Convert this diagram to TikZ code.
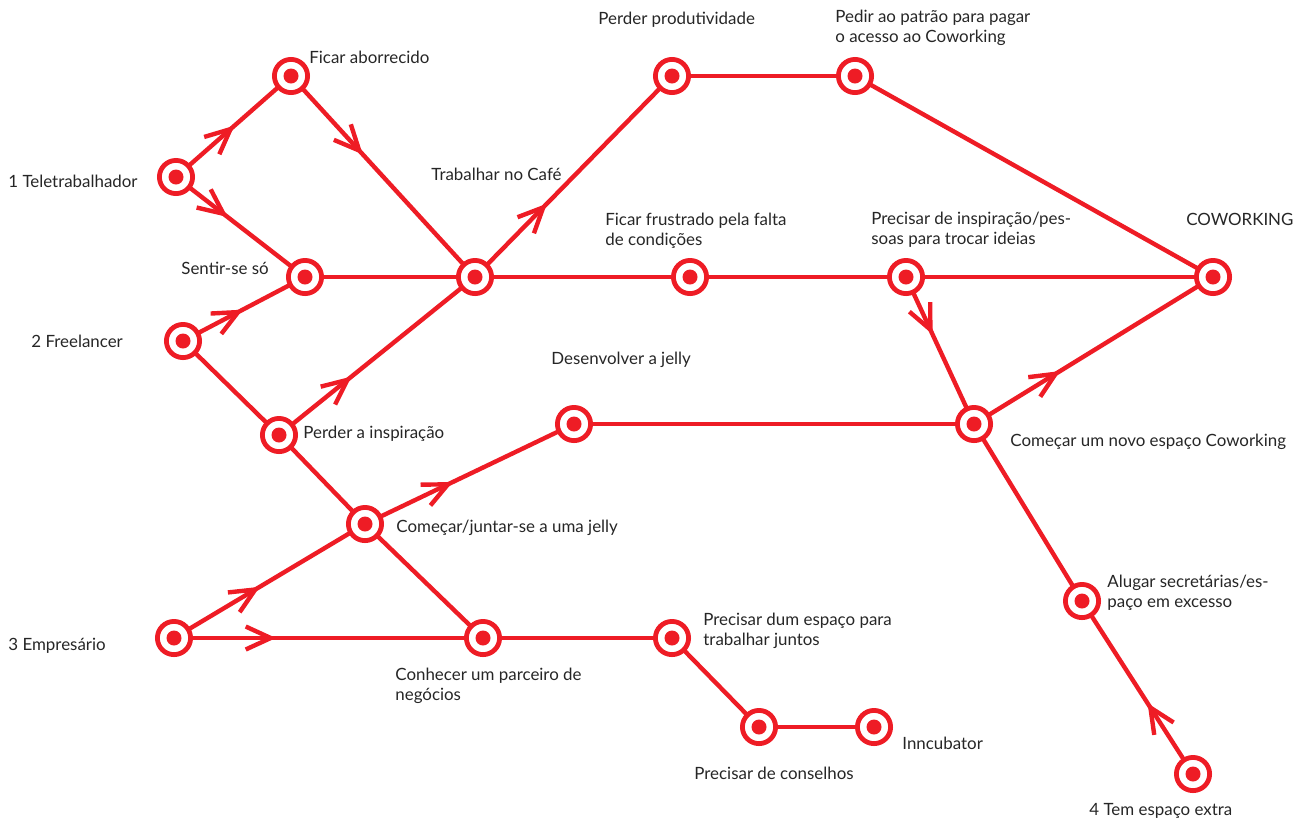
\documentclass[tikz,border=0pt]{standalone}
\usepackage{fontspec}
\setmainfont{Lato}
\usetikzlibrary{arrows.meta,decorations.markings}
\definecolor{jred}{HTML}{EE1C25}
\definecolor{jtext}{HTML}{262626}
\pgfdeclarelayer{bg}
\pgfsetlayers{bg,main}
\tikzset{
  stn/.style={circle, draw=jred, line width=2.4pt, fill=white, minimum size=16.6pt, inner sep=0pt,
    path picture={\fill[jred] (path picture bounding box.center) circle (3.75pt);}},
  lbl/.style={anchor=west, inner sep=0pt, text=jtext, align=left, font=\fontsize{8.45}{9.8}\selectfont},
  ln/.style={draw=jred, line width=2.2pt},
  arr/.style={ln, postaction={decorate}, decoration={markings,
    mark=at position #1 with {\arrow{Straight Barb[length=12.5pt,width=11.5pt,line width=2.2pt]}}}}
}
\begin{document}
\begin{tikzpicture}[x=0.5pt,y=-0.5pt]
\useasboundingbox (0,0) rectangle (1305,821);
% stations
\node[stn] (t1) at (176,177) {};
\node[stn] (fa) at (291,76) {};
\node[stn] (ss) at (305,277) {};
\node[stn] (tc) at (475,277) {};
\node[stn] (fl) at (183,341) {};
\node[stn] (pi) at (279,435) {};
\node[stn] (cj) at (365,524) {};
\node[stn] (em) at (174,638) {};
\node[stn] (cp) at (483,638) {};
\node[stn] (pe) at (672,638) {};
\node[stn] (pc) at (759,727) {};
\node[stn] (in) at (874,727) {};
\node[stn] (dj) at (574,424) {};
\node[stn] (pp) at (672,76) {};
\node[stn] (pa) at (855,76) {};
\node[stn] (ff) at (690,277) {};
\node[stn] (pn) at (906,277) {};
\node[stn] (cw) at (1213,277) {};
\node[stn] (ne) at (974,424) {};
\node[stn] (as) at (1082,601) {};
\node[stn] (te) at (1193,774) {};
% connectors
\begin{pgfonlayer}{bg}
\draw[arr=0.51] (t1.center) -- (fa.center);
\draw[arr=0.39] (fa.center) -- (tc.center);
\draw[arr=0.40] (t1.center) -- (ss.center);
\draw[ln] (ss.center) -- (tc.center);
\draw[arr=0.49] (fl.center) -- (ss.center);
\draw[ln] (fl.center) -- (pi.center);
\draw[arr=0.37] (pi.center) -- (tc.center);
\draw[ln] (pi.center) -- (cj.center);
\draw[arr=0.365] (tc.center) -- (pp.center);
\draw[ln] (pp.center) -- (pa.center);
\draw[ln] (pa.center) -- (cw.center);
\draw[ln] (tc.center) -- (ff.center);
\draw[ln] (ff.center) -- (pn.center);
\draw[ln] (pn.center) -- (cw.center);
\draw[arr=0.39] (pn.center) -- (ne.center);
\draw[arr=0.36] (ne.center) -- (cw.center);
\draw[ln] (dj.center) -- (ne.center);
\draw[arr=0.42] (cj.center) -- (dj.center);
\draw[arr=0.45] (em.center) -- (cj.center);
\draw[arr=0.33] (em.center) -- (cp.center);
\draw[ln] (cj.center) -- (cp.center);
\draw[ln] (cp.center) -- (pe.center);
\draw[ln] (pe.center) -- (pc.center);
\draw[ln] (pc.center) -- (in.center);
\draw[ln] (ne.center) -- (as.center);
\draw[arr=0.41] (te.center) -- (as.center);
\end{pgfonlayer}
% labels
\node[lbl] (lfa) at (309,57) {Ficar aborrecido};
\node[lbl] (lt1) at (8,181) {1 Teletrabalhador};
\node[lbl] (lss) at (181,268) {Sentir-se só};
\node[lbl] (ltc) at (431,174) {Trabalhar no Café};
\node[lbl] (lfl) at (31,341) {2 Freelancer};
\node[lbl] (lpi) at (303,434) {Perder a inspiração};
\node[lbl] (ldj) at (551,360) {Desenvolver a jelly};
\node[lbl] (lcj) at (396,528) {Começar/juntar-se a uma jelly};
\node[lbl] (lem) at (8,646) {3 Empresário};
\node[lbl] (lcp) at (395,686) {Conhecer um parceiro de\\negócios};
\node[lbl] (lpe) at (703,631) {Precisar dum espaço para\\trabalhar juntos};
\node[lbl] (lpc) at (694,773) {Precisar de conselhos};
\node[lbl] (lin) at (902,743) {Inncubator};
\node[lbl] (lpp) at (598,20) {Perder produtividade};
\node[lbl] (lpa) at (835,28) {Pedir ao patrão para pagar\\o acesso ao Coworking};
\node[lbl] (lff) at (605,231) {Ficar frustrado pela falta\\de condições};
\node[lbl] (lpn) at (871,230) {Precisar de inspiração/pes-\\soas para trocar ideias};
\node[lbl] (lcw) at (1186,219) {COWORKING};
\node[lbl] (lne) at (1010,442) {Começar um novo espaço Coworking};
\node[lbl] (las) at (1107,593) {Alugar secretárias/es-\\paço em excesso};
\node[lbl] (lte) at (1089,811) {4 Tem espaço extra};
\end{tikzpicture}
\end{document}
